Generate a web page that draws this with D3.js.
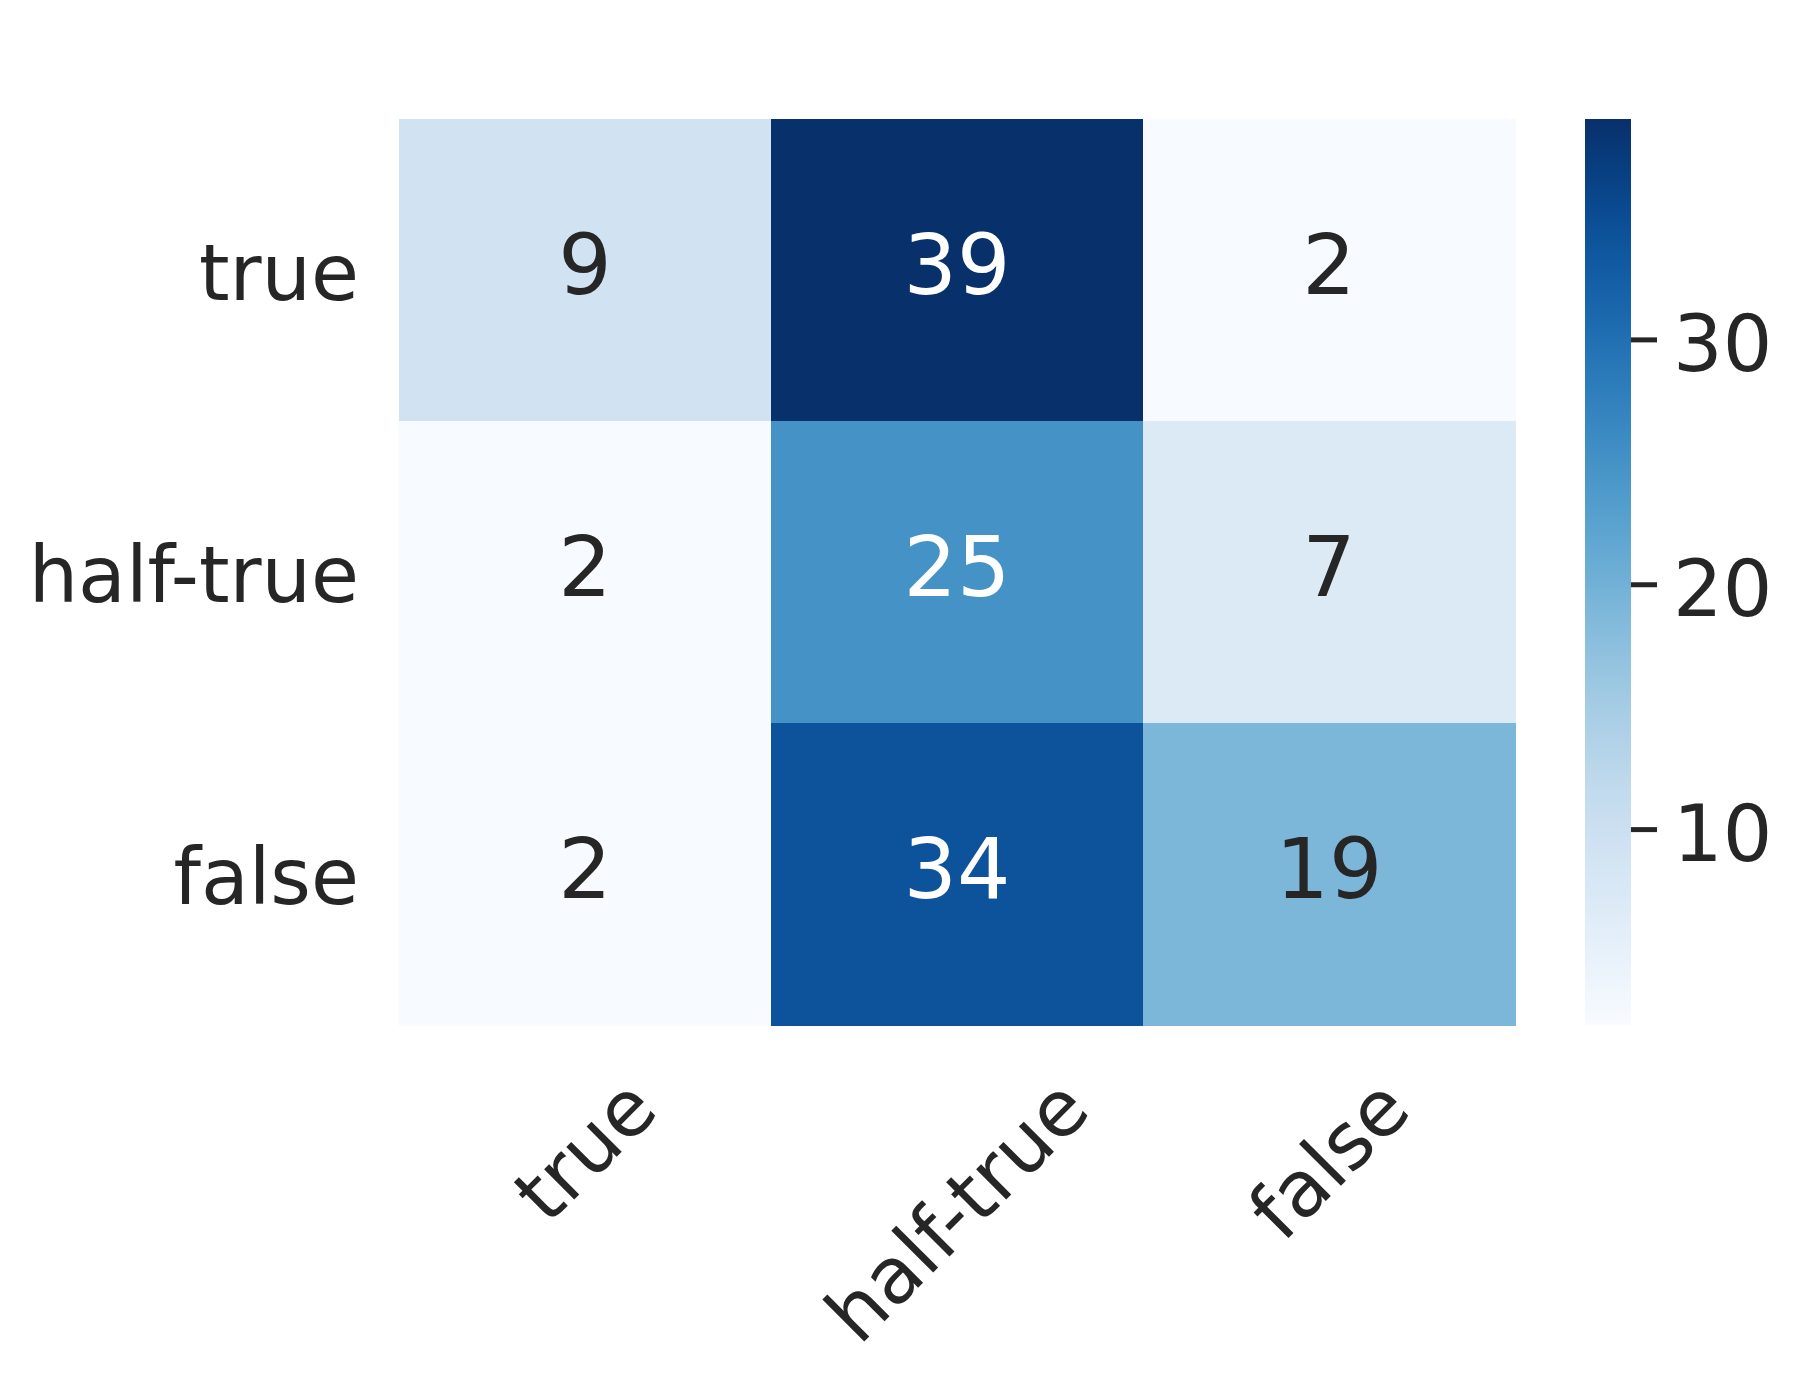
<!DOCTYPE html>
<html>
<head>
<meta charset="utf-8">
<script src="https://cdn.jsdelivr.net/npm/d3@7"></script>
<style>
  html, body { margin: 0; padding: 0; background: #ffffff; }
  svg { display: block; }
  text { font-family: "DejaVu Sans", sans-serif; }
</style>
</head>
<body>
<svg id="chart" width="1799" height="1382"></svg>
<script>
// ---- data ----
const rowLabels = ["true", "half-true", "false"];
const colLabels = ["true", "half-true", "false"];
const values = [
  [9, 39, 2],
  [2, 25, 7],
  [2, 34, 19]
];
const colorbarTicks = [10, 20, 30];

// ---- layout ----
const W = 1799, H = 1382;
const plot = { left: 399, top: 119, right: 1515, bottom: 1025 };
const cbar = { left: 1585, right: 1631 };
const textColor = "#262626";
const tickFont = 78, annotFont = 84;

const svg = d3.select("#chart");

const vmin = d3.min(values.flat()), vmax = d3.max(values.flat());
const color = d3.scaleSequential(d3.interpolateBlues).domain([vmin, vmax]);

const x = d3.scaleBand().domain(colLabels).range([plot.left, plot.right]).padding(0);
const y = d3.scaleBand().domain(rowLabels).range([plot.top, plot.bottom]).padding(0);

const cells = [];
rowLabels.forEach((r, i) => colLabels.forEach((c, j) => cells.push({ r, c, v: values[i][j] })));

// cells
svg.append("g").selectAll("rect").data(cells).join("rect")
  .attr("x", d => x(d.c))
  .attr("y", d => y(d.r))
  .attr("width", x.bandwidth() + 0.5)
  .attr("height", y.bandwidth() + 0.5)
  .attr("fill", d => color(d.v))
  .attr("shape-rendering", "crispEdges");

// annotations
function lum(c) {
  const rgb = d3.rgb(c);
  const f = v => { v /= 255; return v <= 0.03928 ? v / 12.92 : Math.pow((v + 0.055) / 1.055, 2.4); };
  return 0.2126 * f(rgb.r) + 0.7152 * f(rgb.g) + 0.0722 * f(rgb.b);
}
svg.append("g").selectAll("text").data(cells).join("text")
  .attr("x", d => x(d.c) + x.bandwidth() / 2)
  .attr("y", d => y(d.r) + y.bandwidth() / 2)
  .attr("dy", "0.29em")
  .attr("text-anchor", "middle")
  .attr("font-size", annotFont)
  .attr("fill", d => lum(color(d.v)) > 0.408 ? textColor : "#ffffff")
  .text(d => d.v);

// y axis labels
const yAxis = d3.axisLeft(y).tickSize(0).tickPadding(40);
const gy = svg.append("g").attr("transform", `translate(${plot.left},0)`).call(yAxis);
gy.select(".domain").remove();
gy.selectAll("text")
  .attr("font-size", tickFont)
  .attr("font-family", "DejaVu Sans")
  .attr("fill", textColor)
  .attr("dy", "0.38em");

// x axis labels, rotated 45deg, centered bbox
const xLabelTop = 1062;
const gx = svg.append("g");
colLabels.forEach(c => {
  const g = gx.append("g");
  const t = g.append("text")
    .attr("text-anchor", "middle")
    .attr("dominant-baseline", "central")
    .attr("font-size", tickFont)
    .attr("fill", textColor)
    .attr("transform", "rotate(-45)")
    .text(c);
  const bb = t.node().getBoundingClientRect();
  g.attr("transform", `translate(${x(c) + x.bandwidth() / 2},${xLabelTop + bb.height / 2})`);
});

// colorbar
const cy = d3.scaleLinear().domain([vmin, vmax]).range([plot.bottom, plot.top]);
const defs = svg.append("defs");
const grad = defs.append("linearGradient").attr("id", "cbgrad")
  .attr("x1", 0).attr("y1", 1).attr("x2", 0).attr("y2", 0);
d3.range(0, 1.0001, 0.02).forEach(t => {
  grad.append("stop").attr("offset", t).attr("stop-color", d3.interpolateBlues(t));
});
svg.append("rect")
  .attr("x", cbar.left).attr("y", plot.top)
  .attr("width", cbar.right - cbar.left).attr("height", plot.bottom - plot.top)
  .attr("fill", "url(#cbgrad)");

const cAxis = d3.axisRight(cy).tickValues(colorbarTicks).tickSize(26).tickPadding(16);
const gc = svg.append("g").attr("transform", `translate(${cbar.right},0)`).call(cAxis);
gc.select(".domain").remove();
gc.selectAll(".tick line").attr("stroke", textColor).attr("stroke-width", 5);
gc.selectAll("text")
  .attr("font-size", tickFont)
  .attr("font-family", "DejaVu Sans")
  .attr("fill", textColor)
  .attr("dy", "0.4em");
</script>
</body>
</html>
